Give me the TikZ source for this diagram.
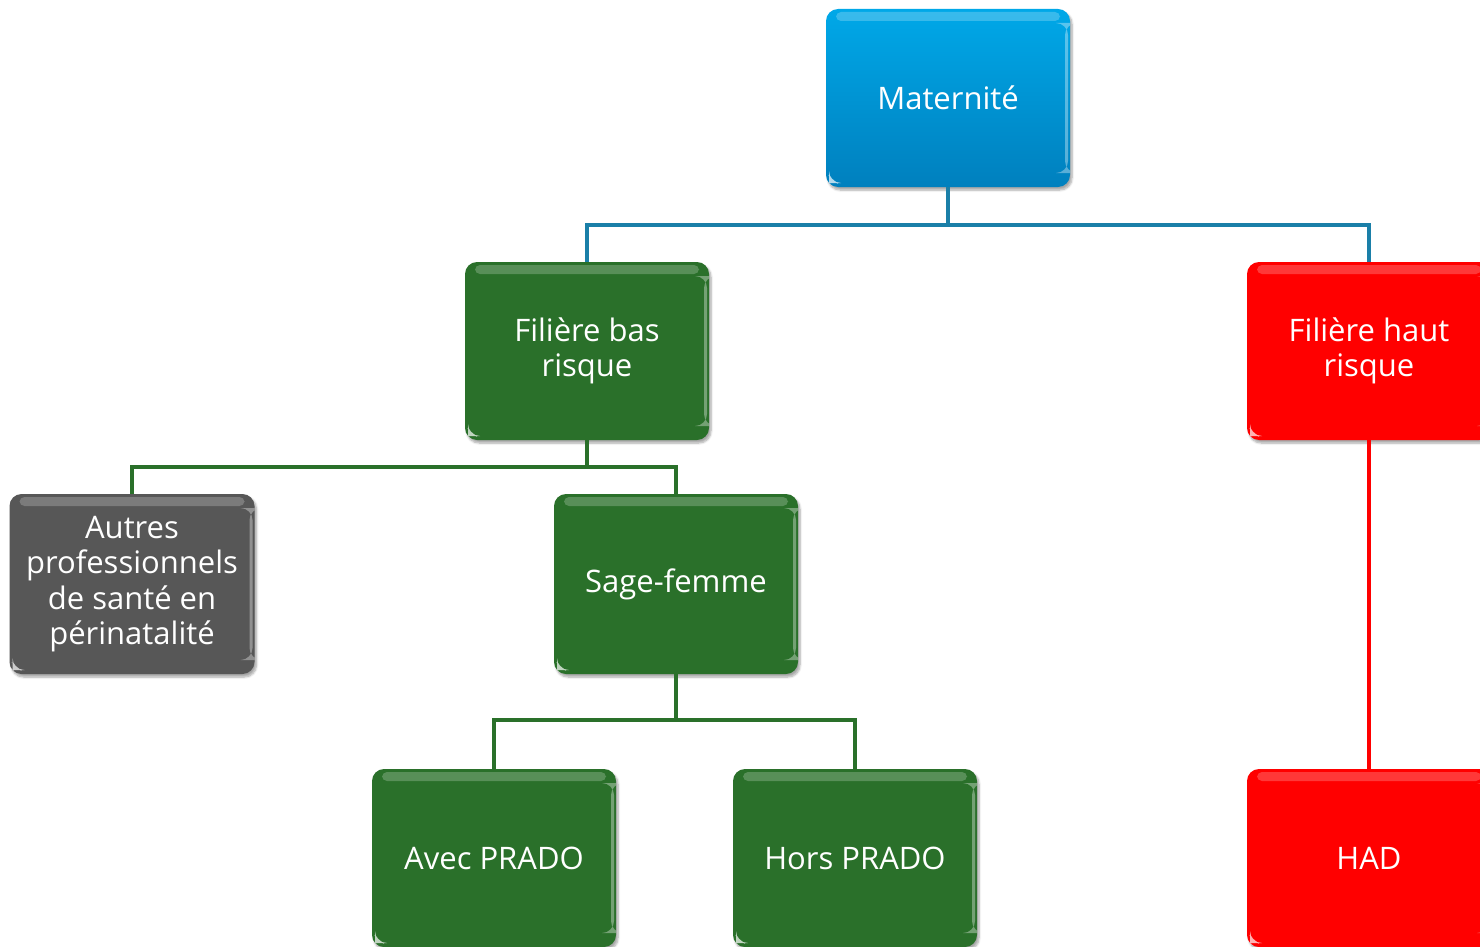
\documentclass[tikz,border=0pt]{standalone}
\usepackage{fontspec}
\setmainfont{Open Sans}
\usetikzlibrary{shadows.blur}
\definecolor{bbluetop}{HTML}{00A8E8}
\definecolor{bbluebot}{HTML}{0080BE}
\definecolor{bgreen}{HTML}{2A702A}
\definecolor{bred}{HTML}{FF0000}
\definecolor{bgray}{HTML}{575757}
\definecolor{lblue}{HTML}{1A7FA8}
\tikzset{
  x=1pt, y=-1pt,
  boxbase/.style={rounded corners=12pt, minimum width=244pt, minimum height=178pt,
    text=white, align=center, font=\fontsize{31}{35.5}\selectfont,
    blur shadow={shadow xshift=2pt, shadow yshift=-3pt, shadow blur steps=6, shadow opacity=35},
    path picture={
      \fill[white, opacity=0.22, rounded corners=5pt]
        ([xshift=10pt,yshift=-3pt]path picture bounding box.north west) rectangle
        ([xshift=-10pt,yshift=-12pt]path picture bounding box.north east);
      \fill[white, opacity=0.35]
        ([xshift=-5pt,yshift=-14pt]path picture bounding box.north east) rectangle
        ([xshift=-2pt,yshift=14pt]path picture bounding box.south east);
      \fill[white, opacity=0.7]
        ([xshift=3pt,yshift=4pt]path picture bounding box.south west) --
        ([xshift=11pt,yshift=4pt]path picture bounding box.south west) --
        ([xshift=3pt,yshift=11pt]path picture bounding box.south west) -- cycle;
    }},
  bluebox/.style={boxbase, top color=bbluetop, bottom color=bbluebot},
  greenbox/.style={boxbase, fill=bgreen},
  redbox/.style={boxbase, fill=bred},
  graybox/.style={boxbase, fill=bgray},
  bluelink/.style={draw=lblue, line width=4pt},
  greenlink/.style={draw=bgreen, line width=4pt},
  redlink/.style={draw=bred, line width=4pt},
}
\begin{document}
\begin{tikzpicture}
\useasboundingbox (0,0) rectangle (1480,947);
\clip (0,0) rectangle (1480,947);
\coordinate (h1) at (948,225);
\coordinate (h2) at (587,467);
\coordinate (h3) at (676,720);
\node[bluebox] (mat) at (948,98) {Maternité};
\node[greenbox] (bas) at (587,351) {Filière bas\\risque};
\node[redbox] (haut) at (1369,351) {Filière haut\\risque};
\node[graybox, minimum width=245pt, minimum height=180pt] (aut) at (132,584) {Autres\\professionnels\\de santé en\\périnatalité};
\node[greenbox, minimum height=180pt] (sage) at (676,584) {Sage-femme};
\node[greenbox] (avec) at (494,858) {Avec PRADO};
\node[greenbox] (hors) at (855,858) {Hors PRADO};
\node[redbox] (had) at (1369,858) {HAD};
\path[bluelink] (mat.south) -- (h1);
\path[bluelink] (bas.north) |- (h1) -| (haut.north);
\path[greenlink] (bas.south) -- (h2);
\path[greenlink] (aut.north) |- (h2) -| (sage.north);
\path[greenlink] (sage.south) -- (h3);
\path[greenlink] (avec.north) |- (h3) -| (hors.north);
\path[redlink] (haut.south) -- (had.north);
\end{tikzpicture}
\end{document}
